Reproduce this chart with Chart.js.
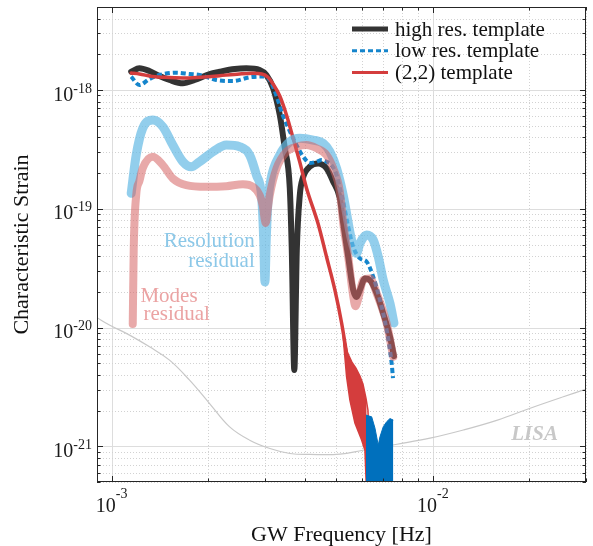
<!DOCTYPE html>
<html>
<head>
<meta charset="utf-8">
<script src="https://cdn.jsdelivr.net/npm/chart.js@4.4.1/dist/chart.umd.min.js"></script>
<style>
  html, body { margin: 0; padding: 0; background: #fff; }
  canvas { display: block; }
</style>
</head>
<body>
<canvas id="chart" width="593" height="546"></canvas>
<script>
// frequencies in Hz, characteristic strain (dimensionless)
const highResFreq = [1.150e-3, 1.220e-3, 1.311e-3, 1.409e-3, 1.514e-3, 1.666e-3, 1.812e-3, 2.018e-3, 2.169e-3, 2.416e-3, 2.627e-3, 2.891e-3, 3.033e-3, 3.181e-3, 3.338e-3, 3.459e-3, 3.586e-3, 3.638e-3, 3.704e-3, 3.771e-3, 3.853e-3, 3.937e-3, 4.140e-3, 4.396e-3, 4.669e-3, 4.896e-3, 5.137e-3, 5.260e-3, 5.452e-3, 5.651e-3, 5.791e-3, 5.930e-3, 6.147e-3, 6.372e-3, 6.686e-3, 7.010e-3, 7.356e-3, 7.570e-3];
const highResStrain = [1.426e-18, 1.523e-18, 1.445e-18, 1.312e-18, 1.214e-18, 1.139e-18, 1.214e-18, 1.364e-18, 1.426e-18, 1.503e-18, 1.523e-18, 1.474e-18, 1.338e-18, 1.040e-18, 6.16e-19, 3.25e-19, 1.49e-19, 4.49e-20, 4.38e-21, 4.49e-20, 1.30e-19, 1.81e-19, 2.26e-19, 2.41e-19, 2.19e-19, 1.69e-19, 1.22e-19, 7.58e-20, 3.94e-20, 2.07e-20, 1.81e-20, 2.07e-20, 2.59e-20, 2.51e-20, 1.94e-20, 1.31e-20, 8.35e-21, 5.74e-21];

const lowResFreq = [1.150e-3, 1.220e-3, 1.311e-3, 1.409e-3, 1.589e-3, 1.748e-3, 1.878e-3, 2.118e-3, 2.381e-3, 2.690e-3, 2.933e-3, 3.106e-3, 3.261e-3, 3.418e-3, 3.586e-3, 3.763e-3, 3.937e-3, 4.140e-3, 4.345e-3, 4.504e-3, 4.669e-3, 4.839e-3, 5.016e-3, 5.137e-3, 5.260e-3, 5.452e-3, 5.651e-3, 5.930e-3, 6.223e-3, 6.525e-3, 6.846e-3, 7.184e-3, 7.446e-3, 7.516e-3];
const lowResStrain = [1.294e-18, 1.102e-18, 1.238e-18, 1.338e-18, 1.399e-18, 1.364e-18, 1.338e-18, 1.214e-18, 1.191e-18, 1.279e-18, 1.299e-18, 1.214e-18, 8.90e-19, 6.04e-19, 4.51e-19, 3.44e-19, 2.78e-19, 2.43e-19, 2.49e-19, 2.57e-19, 2.49e-19, 2.33e-19, 1.92e-19, 1.49e-19, 1.15e-19, 7.05e-20, 4.78e-20, 3.82e-20, 3.58e-20, 2.67e-20, 1.70e-20, 9.51e-21, 4.98e-21, 3.75e-21];
// noisy end of the low res. template (top envelope)
const lowResTailFreq = [6.192e-3, 6.451e-3, 6.606e-3, 6.763e-3, 6.846e-3, 7.010e-3, 7.184e-3, 7.356e-3, 7.534e-3];
const lowResTailStrain = [1.83e-21, 1.77e-21, 1.42e-21, 1.02e-21, 1.20e-21, 1.46e-21, 1.61e-21, 1.71e-21, 1.66e-21];

const modeFreq = [1.150e-3, 1.220e-3, 1.340e-3, 1.514e-3, 1.707e-3, 1.947e-3, 2.169e-3, 2.503e-3, 2.755e-3, 2.933e-3, 3.062e-3, 3.181e-3, 3.338e-3, 3.502e-3, 3.672e-3, 3.853e-3, 4.044e-3, 4.396e-3, 4.669e-3, 4.955e-3, 5.200e-3, 5.413e-3];
const modeStrain = [1.391e-18, 1.364e-18, 1.299e-18, 1.274e-18, 1.262e-18, 1.287e-18, 1.320e-18, 1.364e-18, 1.382e-18, 1.364e-18, 1.287e-18, 1.123e-18, 8.90e-19, 6.16e-19, 3.94e-19, 2.47e-19, 1.49e-19, 7.43e-20, 3.92e-20, 2.07e-20, 1.09e-20, 5.63e-21];
// noisy end of the (2,2) template: upper and lower envelopes
const modeNoiseHiFreq = [5.249e-3, 5.413e-3, 5.599e-3, 5.762e-3, 5.930e-3, 6.060e-3, 6.192e-3, 6.282e-3, 6.327e-3];
const modeNoiseHiStrain = [9.51e-21, 6.21e-21, 5.11e-21, 4.55e-21, 3.90e-21, 3.34e-21, 2.54e-21, 2.01e-21, 1.13e-21];
const modeNoiseLoFreq = [5.249e-3, 5.390e-3, 5.519e-3, 5.721e-3, 6.003e-3, 6.147e-3, 6.214e-3];
const modeNoiseLoStrain = [8.80e-21, 3.84e-21, 2.45e-21, 1.57e-21, 1.13e-21, 9.27e-22, 4.27e-22];

const resResFreq = [1.150e-3, 1.192e-3, 1.249e-3, 1.343e-3, 1.443e-3, 1.550e-3, 1.666e-3, 1.769e-3, 1.878e-3, 2.067e-3, 2.276e-3, 2.503e-3, 2.690e-3, 2.823e-3, 2.933e-3, 2.975e-3, 3.001e-3, 3.029e-3, 3.062e-3, 3.129e-3, 3.338e-3, 3.586e-3, 3.853e-3, 4.240e-3, 4.556e-3, 4.780e-3, 5.016e-3, 5.260e-3, 5.587e-3, 5.791e-3, 5.930e-3, 6.223e-3, 6.525e-3, 6.763e-3, 7.010e-3, 7.356e-3, 7.570e-3];
const resResStrain = [1.348e-19, 2.834e-19, 4.756e-19, 5.588e-19, 4.906e-19, 3.440e-19, 2.489e-19, 2.258e-19, 2.489e-19, 3.021e-19, 3.440e-19, 3.329e-19, 2.834e-19, 1.922e-19, 1.231e-19, 5.449e-20, 2.412e-20, 5.449e-20, 1.074e-19, 1.745e-19, 2.834e-19, 3.668e-19, 3.917e-19, 3.790e-19, 3.556e-19, 3.021e-19, 2.190e-19, 1.304e-19, 5.449e-20, 4.210e-20, 5.110e-20, 6.004e-20, 5.449e-20, 3.942e-20, 2.508e-20, 1.596e-20, 1.089e-20];

const modesResFreq = [1.163e-3, 1.171e-3, 1.192e-3, 1.220e-3, 1.249e-3, 1.343e-3, 1.443e-3, 1.550e-3, 1.707e-3, 1.971e-3, 2.276e-3, 2.563e-3, 2.755e-3, 2.891e-3, 2.953e-3, 3.018e-3, 3.073e-3, 3.106e-3, 3.261e-3, 3.502e-3, 3.763e-3, 4.044e-3, 4.345e-3, 4.669e-3, 4.896e-3, 5.137e-3, 5.260e-3, 5.452e-3, 5.651e-3, 5.741e-3, 5.845e-3, 6.073e-3, 6.372e-3, 6.686e-3, 7.184e-3, 7.534e-3];
const modesResStrain = [1.07e-20, 4.49e-20, 1.30e-19, 1.71e-19, 2.19e-19, 2.74e-19, 2.33e-19, 1.80e-19, 1.58e-19, 1.53e-19, 1.55e-19, 1.61e-19, 1.53e-19, 1.30e-19, 1.07e-19, 7.58e-20, 1.07e-19, 1.30e-19, 2.19e-19, 3.02e-19, 3.33e-19, 3.44e-19, 3.23e-19, 2.83e-19, 2.19e-19, 1.39e-19, 7.58e-20, 3.94e-20, 1.84e-20, 1.51e-20, 1.70e-20, 2.51e-20, 2.59e-20, 1.94e-20, 1.08e-20, 5.67e-21];

const lisaFreq = [8.96e-4, 9.84e-4, 1.137e-3, 1.312e-3, 1.514e-3, 1.748e-3, 2.018e-3, 2.330e-3, 2.690e-3, 3.110e-3, 3.590e-3, 4.140e-3, 5.140e-3, 6.060e-3, 7.740e-3, 9.800e-3, 1.245e-2, 1.590e-2, 2.010e-2, 2.550e-2, 3.010e-2];
const lisaStrain = [1.22e-20, 1.05e-20, 8.63e-21, 6.87e-21, 5.31e-21, 3.60e-21, 2.29e-21, 1.455e-21, 1.125e-21, 9.57e-22, 8.69e-22, 8.53e-22, 8.57e-22, 9.26e-22, 1.04e-21, 1.17e-21, 1.37e-21, 1.66e-21, 2.09e-21, 2.61e-21, 3.03e-21];

const legendRows = ['high res. template', 'low res. template', '(2,2) template'];

const notes = [
  { text: 'Resolution', x: 2.789e-3, y: 4.78e-20, align: 'right', color: '#8cc8e8' },
  { text: 'residual', x: 2.789e-3, y: 3.25e-20, align: 'right', color: '#8cc8e8' },
  { text: 'Modes', x: 1.229e-3, y: 1.646e-20, align: 'left', color: '#eba3a3' },
  { text: 'residual', x: 1.256e-3, y: 1.154e-20, align: 'left', color: '#eba3a3' },
  { text: 'LISA', x: 1.755e-2, y: 1.126e-21, align: 'left', color: '#c8c8c8', style: 'italic bold ' },
];

const serif = "'Liberation Serif', 'DejaVu Serif', serif";

function pts(xs, ys) {
  return xs.map((x, i) => ({ x: x, y: ys[i] }));
}

function logTicks(scale) {
  const min = scale.min, max = scale.max;
  const out = [];
  for (let e = Math.floor(Math.log10(min)); e <= Math.ceil(Math.log10(max)); e++) {
    for (let m = 1; m <= 9; m++) {
      const v = m * Math.pow(10, e);
      if (v >= min * 0.999 && v <= max * 1.001) out.push({ value: v, major: m === 1, exp: e });
    }
  }
  scale.ticks = out;
}

// grid lines under the curves, box and inward ticks over them
const frame = {
  id: 'frame',
  beforeDatasetsDraw(chart) {
    const { ctx, chartArea: a, scales: { x, y } } = chart;
    ctx.save();
    ctx.lineWidth = 1;
    x.ticks.forEach(t => {
      const p = Math.round(x.getPixelForValue(t.value)) + 0.5;
      ctx.strokeStyle = t.major ? '#dddddd' : '#d2d2d2';
      ctx.setLineDash(t.major ? [] : [1, 2]);
      ctx.beginPath(); ctx.moveTo(p, a.top); ctx.lineTo(p, a.bottom); ctx.stroke();
    });
    y.ticks.forEach(t => {
      const p = Math.round(y.getPixelForValue(t.value)) + 0.5;
      ctx.strokeStyle = t.major ? '#dddddd' : '#d2d2d2';
      ctx.setLineDash(t.major ? [] : [1, 2]);
      ctx.beginPath(); ctx.moveTo(a.left, p); ctx.lineTo(a.right, p); ctx.stroke();
    });
    ctx.restore();
  },
  afterDatasetsDraw(chart) {
    const { ctx, chartArea: a, scales: { x, y } } = chart;
    ctx.save();
    ctx.strokeStyle = '#262626';
    ctx.lineWidth = 1;
    ctx.strokeRect(a.left + 0.5, a.top + 0.5, a.right - a.left - 1, a.bottom - a.top - 1);
    ctx.beginPath();
    x.ticks.forEach(t => {
      const p = Math.round(x.getPixelForValue(t.value)) + 0.5;
      const len = t.major ? 6 : 3.5;
      ctx.moveTo(p, a.bottom); ctx.lineTo(p, a.bottom - len);
      ctx.moveTo(p, a.top); ctx.lineTo(p, a.top + len);
    });
    y.ticks.forEach(t => {
      const p = Math.round(y.getPixelForValue(t.value)) + 0.5;
      const len = t.major ? 6 : 3.5;
      ctx.moveTo(a.left, p); ctx.lineTo(a.left + len, p);
      ctx.moveTo(a.right, p); ctx.lineTo(a.right - len, p);
    });
    ctx.stroke();

    // text notes on the plot
    ctx.textBaseline = 'alphabetic';
    notes.forEach(n => {
      ctx.font = (n.style || '') + '21px ' + serif;
      ctx.fillStyle = n.color;
      ctx.textAlign = n.align;
      ctx.fillText(n.text, x.getPixelForValue(n.x), y.getPixelForValue(n.y));
    });

    // legend
    const ds = chart.data.datasets;
    const lx = a.right - 234, ly = a.top + 22;
    ctx.textAlign = 'left';
    ctx.textBaseline = 'middle';
    ctx.font = '21px ' + serif;
    legendRows.forEach((label, i) => {
      const d = ds.find(s => s.label === label);
      const yy = ly + i * 21.7;
      ctx.strokeStyle = d.borderColor;
      ctx.lineWidth = d.legendWidth;
      ctx.setLineDash(d.borderDash || []);
      ctx.beginPath(); ctx.moveTo(lx, yy); ctx.lineTo(lx + 36, yy); ctx.stroke();
      ctx.setLineDash([]);
      ctx.fillStyle = '#111';
      ctx.fillText(label, lx + 43, yy + 1);
    });
    ctx.restore();
  },
  afterDraw(chart) {
    // tick labels as 10 with raised exponent
    const { ctx, chartArea: a, scales: { x, y } } = chart;
    ctx.save();
    ctx.fillStyle = '#1a1a1a';
    ctx.textAlign = 'left';
    ctx.textBaseline = 'alphabetic';
    const widths = exp => {
      ctx.font = '20px ' + serif;
      const wb = ctx.measureText('10').width;
      ctx.font = '14px ' + serif;
      const we = ctx.measureText(String(exp)).width;
      return [wb, we];
    };
    x.ticks.filter(t => t.major).forEach(t => {
      const p = x.getPixelForValue(t.value);
      const [wb, we] = widths(t.exp);
      const left = p - (wb + we) / 2;
      ctx.font = '20px ' + serif;
      ctx.fillText('10', left, a.bottom + 30);
      ctx.font = '14px ' + serif;
      ctx.fillText(String(t.exp), left + wb, a.bottom + 16);
    });
    y.ticks.filter(t => t.major).forEach(t => {
      const p = y.getPixelForValue(t.value);
      const [wb, we] = widths(t.exp);
      const right = a.left - 5;
      ctx.font = '20px ' + serif;
      ctx.fillText('10', right - we - wb, p + 10.7);
      ctx.font = '14px ' + serif;
      ctx.fillText(String(t.exp), right - we, p + 2.7);
    });
    ctx.restore();
  }
};

const smooth = { cubicInterpolationMode: 'monotone', borderCapStyle: 'round', borderJoinStyle: 'round', clip: 0 };

new Chart(document.getElementById('chart'), {
  type: 'line',
  data: {
    datasets: [
      Object.assign({ label: 'Modes residual', data: pts(modesResFreq, modesResStrain), borderColor: 'rgba(214,98,98,0.55)', borderWidth: 8, order: 1 }, smooth),
      Object.assign({ label: 'Resolution residual', data: pts(resResFreq, resResStrain), borderColor: 'rgba(100,185,228,0.7)', borderWidth: 9, order: 2 }, smooth),
      Object.assign({ label: '(2,2) template', data: pts(modeFreq, modeStrain), borderColor: '#d43d3d', borderWidth: 3.5, legendWidth: 3, order: 3 }, smooth),
      Object.assign({ label: 'low res. template', data: pts(lowResFreq, lowResStrain), borderColor: '#1585cc', borderWidth: 4, borderDash: [5, 3], legendWidth: 3, order: 4 }, smooth, { borderCapStyle: 'butt' }),
      Object.assign({ label: 'high res. template', data: pts(highResFreq, highResStrain), borderColor: '#333333', borderWidth: 6, legendWidth: 5, order: 5 }, smooth),
      { label: 'low res. noise', data: pts(lowResTailFreq, lowResTailStrain), borderColor: '#0070bd', backgroundColor: '#0070bd', borderWidth: 1, fill: 'start', order: 6, clip: 0 },
      { label: '(2,2) noise', data: pts(modeNoiseHiFreq, modeNoiseHiStrain), borderColor: '#d43d3d', backgroundColor: '#d43d3d', borderWidth: 1.5, fill: '+1', order: 7, clip: 0 },
      { label: '(2,2) noise low', data: pts(modeNoiseLoFreq, modeNoiseLoStrain), borderColor: '#d43d3d', borderWidth: 1.5, order: 7, clip: 0 },
      { label: 'LISA', data: pts(lisaFreq, lisaStrain), borderColor: '#c8c8c8', borderWidth: 1.2, tension: 0.4, order: 9, clip: 0 }
    ]
  },
  options: {
    responsive: false,
    animation: false,
    events: [],
    layout: { padding: { top: 7, right: 7, left: 0, bottom: 0 } },
    elements: { point: { radius: 0 }, line: { tension: 0 } },
    plugins: { legend: { display: false }, tooltip: { enabled: false } },
    scales: {
      x: {
        type: 'logarithmic',
        min: 9e-4,
        max: 3e-2,
        afterBuildTicks: logTicks,
        afterFit: s => { s.height = 64; },
        ticks: { display: false },
        grid: { display: false },
        border: { display: false },
        title: { display: true, text: 'GW Frequency [Hz]', color: '#111', font: { family: serif, size: 22, lineHeight: 1 }, padding: { top: 0, bottom: 0 } }
      },
      y: {
        type: 'logarithmic',
        min: 5e-22,
        max: 5e-18,
        afterBuildTicks: logTicks,
        afterFit: s => { s.width = 97; },
        ticks: { display: false },
        grid: { display: false },
        border: { display: false },
        title: { display: true, text: 'Characteristic Strain', color: '#111', font: { family: serif, size: 22, lineHeight: 1 }, padding: { top: 11, bottom: 0 } }
      }
    }
  },
  plugins: [frame]
});
</script>
</body>
</html>
